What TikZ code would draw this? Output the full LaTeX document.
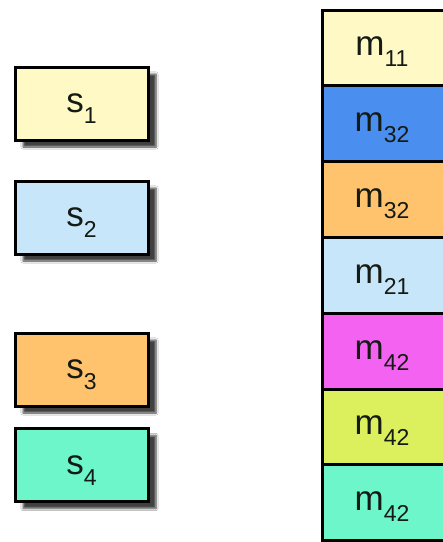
\documentclass[tikz,border=0pt]{standalone}
\usepackage{fontspec}
\setmainfont{Liberation Sans}
\usetikzlibrary{shadows.blur}
\definecolor{cyel}{HTML}{FFF9C6}
\definecolor{clblue}{HTML}{C8E6FA}
\definecolor{corange}{HTML}{FFC36E}
\definecolor{caqua}{HTML}{6CF6CA}
\definecolor{cblue}{HTML}{4A8EF0}
\definecolor{cmag}{HTML}{F462F2}
\definecolor{clime}{HTML}{DCEF5C}
\definecolor{ctext}{HTML}{141A14}
\newcommand{\lbl}[2]{\fontsize{35}{35}\selectfont #1\raisebox{-11pt}[0pt][0pt]{\fontsize{23}{23}\selectfont #2}}
\begin{document}
\begin{tikzpicture}[x=1pt,y=-1pt,
  sbox/.style={draw=black, line width=3pt, minimum width=133pt, minimum height=73pt,
    inner sep=0pt, text=ctext,
    blur shadow={shadow xshift=8pt, shadow yshift=-7pt, shadow blur steps=6, shadow opacity=75}},
  mcell/.style={draw=black, line width=3pt, minimum width=140pt, minimum height=75.8pt,
    inner sep=0pt, anchor=north west},
  mlabel/.style={inner sep=0pt, text=ctext}]
\useasboundingbox (0,0) rectangle (443,542);
\fill[white] (0,0) rectangle (443,542);
% left boxes
\node[sbox, fill=cyel]    (s1) at (81.5,103.5) {\lbl{s}{1}};
\node[sbox, fill=clblue]  (s2) at (81.5,217.5) {\lbl{s}{2}};
\node[sbox, fill=corange] (s3) at (81.5,369.5) {\lbl{s}{3}};
\node[sbox, fill=caqua]   (s4) at (81.5,465)   {\lbl{s}{4}};
% right column
\node[mcell, fill=cyel]    (c1) at (320.5,8.5)   {};
\node[mcell, fill=cblue]   (c2) at (320.5,84.3)  {};
\node[mcell, fill=corange] (c3) at (320.5,160.1) {};
\node[mcell, fill=clblue]  (c4) at (320.5,235.9) {};
\node[mcell, fill=cmag]    (c5) at (320.5,311.7) {};
\node[mcell, fill=clime]   (c6) at (320.5,387.5) {};
\node[mcell, fill=caqua]   (c7) at (320.5,463.3) {};
\node[mlabel] (l1) at (382,46.4)  {\lbl{m}{11}};
\node[mlabel] (l2) at (382,122.2) {\lbl{m}{32}};
\node[mlabel] (l3) at (382,198.0) {\lbl{m}{32}};
\node[mlabel] (l4) at (382,273.8) {\lbl{m}{21}};
\node[mlabel] (l5) at (382,349.6) {\lbl{m}{42}};
\node[mlabel] (l6) at (382,425.4) {\lbl{m}{42}};
\node[mlabel] (l7) at (382,501.2) {\lbl{m}{42}};
\end{tikzpicture}
\end{document}
